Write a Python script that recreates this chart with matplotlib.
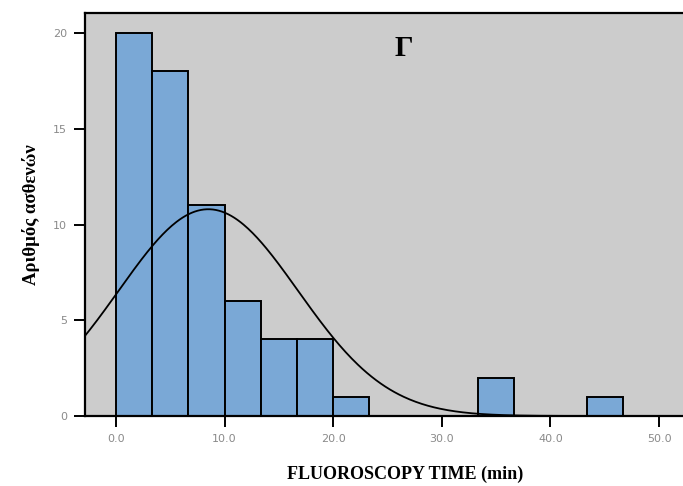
import matplotlib.pyplot as plt
import numpy as np

# Histogram counts per 10/3-minute bin, starting at 0
bin_width = 10 / 3
counts = [20, 18, 11, 6, 4, 4, 1, 0, 0, 0, 2, 0, 0, 1]
n_patients = sum(counts)

# Normal curve parameters
mean_time = 8.5
sd_time = 8.25

x_ticks = [0, 10, 20, 30, 40, 50]
x_ticklabels = ['0.0', '10.0', '20.0', '30.0', '40.0', '50.0']
y_ticks = [0, 5, 10, 15, 20]

fig = plt.figure(figsize=(6.83, 4.86), dpi=100)
ax = fig.add_axes([85 / 683, 1 - 416 / 486, 605 / 683, (416 - 13) / 486])
ax.set_facecolor('#cccccc')

edges = np.arange(len(counts)) * bin_width
ax.bar(edges, counts, width=bin_width, align='edge',
       color='#7aa8d6', edgecolor='black', linewidth=1.4, zorder=2)

# Fitted normal curve scaled to the histogram
xs = np.linspace(-3, 53, 400)
ys = n_patients * bin_width / (sd_time * np.sqrt(2 * np.pi)) * \
    np.exp(-0.5 * ((xs - mean_time) / sd_time) ** 2)
ax.plot(xs, ys, color='black', linewidth=1.3, zorder=3)

ax.set_xlim(-2.855, 52.85)
ax.set_ylim(0, 21.05)
ax.set_xticks(x_ticks)
ax.set_xticklabels(x_ticklabels)
ax.set_yticks(y_ticks)
ax.tick_params(direction='out', length=8, width=1.4, colors='black',
               labelcolor='#8a8a8a', labelsize=8, pad=5)
for sp in ax.spines.values():
    sp.set_linewidth(1.6)

ax.text(26.5, 19.2, 'Γ', fontsize=21, fontweight='bold',
        family='Liberation Serif', ha='center', va='center')

ax.set_ylabel('Αριθμός ασθενών', fontsize=13.5, fontweight='bold',
              family='Liberation Serif', labelpad=9)
fig.text(405 / 683, 1 - 474 / 486, 'FLUOROSCOPY TIME (min)', fontsize=13,
         fontweight='bold', family='Liberation Serif', ha='center', va='center')

fig.savefig('out.png', dpi=100)
